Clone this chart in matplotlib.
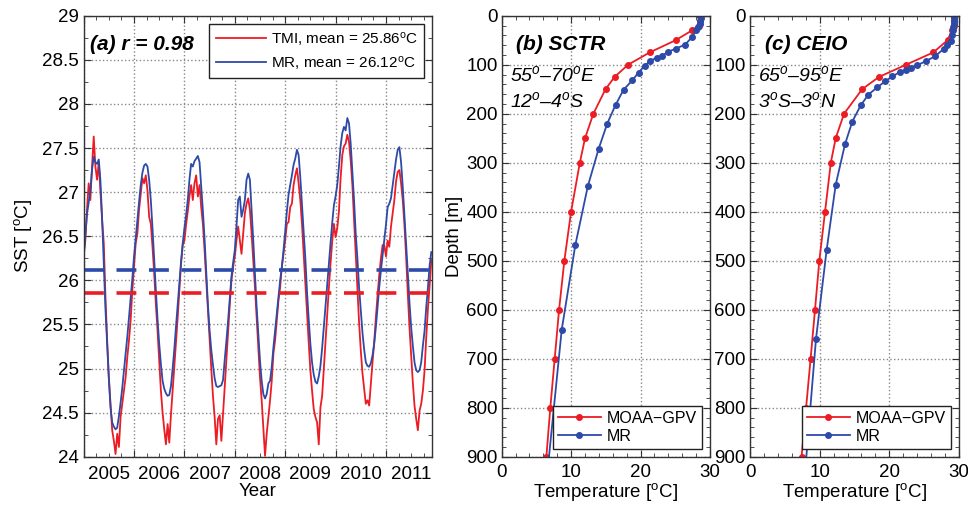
import numpy as np
import matplotlib
matplotlib.use("Agg")
import matplotlib.pyplot as plt
from matplotlib.ticker import FixedLocator, MultipleLocator, FuncFormatter

plt.rcParams['font.family'] = ['Liberation Sans', 'DejaVu Sans']
plt.rcParams['mathtext.fontset'] = 'custom'
plt.rcParams['mathtext.rm'] = 'Liberation Sans'
plt.rcParams['mathtext.it'] = 'Liberation Sans:italic'
plt.rcParams['mathtext.bf'] = 'Liberation Sans:bold'
plt.rcParams['mathtext.default'] = 'regular'

# ---- (a) SST time series, ~10-day samples starting Jan 2005 ----
tmi = [26.30, 26.45, 26.80, 27.10, 26.91, 27.29, 27.63, 27.29, 27.14, 27.34, 27.00, 26.68, 26.42, 25.81, 25.32,
       24.90, 24.60, 24.30, 24.18, 24.03, 24.26, 24.11, 24.45, 24.60, 24.75, 24.90, 25.13, 25.32, 25.55, 25.89,
       26.15, 26.42, 26.53, 26.80, 26.98, 27.16, 27.10, 27.19, 27.02, 26.72, 26.64, 26.38, 26.08, 25.73, 25.43,
       25.09, 24.75, 24.50, 24.31, 24.14, 24.37, 24.16, 24.48, 24.75, 25.02, 25.30, 25.58, 25.89, 26.19, 26.40,
       26.45, 26.63, 26.78, 26.95, 27.08, 26.91, 27.10, 27.19, 26.95, 27.08, 26.83, 26.64, 26.34, 26.00, 25.66,
       25.32, 25.00, 24.69, 24.45, 24.14, 24.43, 24.47, 24.18, 24.48, 24.79, 25.11, 25.41, 25.72, 26.00, 26.15,
       26.27, 26.45, 26.61, 26.45, 26.30, 26.53, 26.76, 26.87, 26.93, 26.80, 26.53, 26.23, 25.92, 25.58, 25.24,
       24.90, 24.64, 24.33, 24.01, 24.26, 24.45, 24.64, 24.86, 25.17, 25.32, 25.55, 25.77, 25.92, 26.15, 26.30,
       26.45, 26.64, 26.66, 26.83, 26.87, 27.08, 27.19, 27.27, 27.10, 26.91, 26.64, 26.30, 25.96, 25.62, 25.30,
       24.98, 24.75, 24.54, 24.45, 24.39, 24.14, 24.56, 24.69, 25.00, 25.30, 25.60, 25.91, 26.19, 26.44, 26.64,
       26.49, 26.59, 26.78, 27.16, 27.42, 27.52, 27.55, 27.65, 27.57, 27.36, 27.08, 26.68, 26.30, 25.92, 25.52,
       25.21, 24.95, 24.77, 24.60, 24.64, 24.58, 24.83, 25.07, 25.30, 25.58, 25.83, 26.06, 26.25, 26.40, 26.40,
       26.27, 26.45, 26.38, 26.61, 26.76, 26.91, 27.12, 27.23, 27.25, 27.10, 26.91, 26.63, 26.27, 25.85, 25.47,
       25.15, 24.84, 24.58, 24.43, 24.30, 24.52, 24.60, 24.75, 24.98, 25.36, 25.68, 25.94, 26.23]
mr = [26.24, 26.51, 26.75, 26.88, 27.02, 27.25, 27.40, 27.34, 27.32, 27.37, 27.13, 26.70, 26.18, 25.67, 25.29,
      24.89, 24.56, 24.39, 24.34, 24.31, 24.33, 24.46, 24.61, 24.78, 24.98, 25.17, 25.36, 25.58, 25.80, 26.02,
      26.27, 26.47, 26.68, 26.89, 27.08, 27.22, 27.30, 27.32, 27.29, 27.14, 26.91, 26.59, 26.23, 25.89, 25.56,
      25.28, 25.05, 24.86, 24.77, 24.72, 24.69, 24.70, 24.80, 25.00, 25.22, 25.48, 25.72, 25.97, 26.21, 26.42,
      26.59, 26.74, 26.91, 27.14, 27.32, 27.29, 27.35, 27.38, 27.41, 27.34, 27.07, 26.79, 26.47, 26.10, 25.72,
      25.43, 25.21, 25.04, 24.89, 24.80, 24.79, 24.80, 24.81, 24.87, 25.10, 25.31, 25.54, 25.79, 26.04, 26.20,
      26.34, 26.61, 26.91, 26.95, 26.72, 26.80, 26.91, 27.14, 27.21, 27.14, 26.80, 26.45, 26.08, 25.70, 25.39,
      25.09, 24.86, 24.71, 24.66, 24.71, 24.83, 24.86, 25.02, 25.24, 25.43, 25.62, 25.81, 26.00, 26.15, 26.34,
      26.55, 26.78, 26.97, 27.08, 27.19, 27.31, 27.38, 27.48, 27.42, 27.17, 26.85, 26.55, 26.25, 25.87, 25.56,
      25.28, 25.07, 24.93, 24.85, 24.83, 24.91, 25.03, 25.23, 25.47, 25.72, 25.96, 26.19, 26.42, 26.65, 26.85,
      26.95, 27.08, 27.29, 27.52, 27.67, 27.74, 27.70, 27.84, 27.78, 27.55, 27.23, 26.91, 26.53, 26.25, 25.92,
      25.66, 25.41, 25.22, 25.07, 25.03, 25.02, 25.06, 25.15, 25.28, 25.47, 25.70, 25.92, 26.11, 26.28, 26.45,
      26.63, 26.83, 26.87, 26.93, 27.08, 27.23, 27.37, 27.48, 27.51, 27.34, 27.06, 26.74, 26.42, 26.09, 25.75,
      25.47, 25.26, 25.07, 24.98, 24.96, 24.98, 25.07, 25.26, 25.43, 25.70, 25.92, 26.17, 26.32]
tmi_mean = 25.86
mr_mean = 26.12

# ---- (b) SCTR and (c) CEIO temperature profiles ----
b_moaa_depth = [0, 10, 20, 30, 50, 75, 100, 125, 150, 200, 250, 300, 400, 500, 600, 700, 800, 900]
b_moaa_temp = [28.6, 28.55, 28.4, 27.4, 25.05, 21.3, 18.2, 16.25, 14.95, 13.2, 12.0, 11.25, 9.99, 9.02, 8.26, 7.63, 7.0, 6.43]
b_mr_depth = [0, 5, 10, 16, 23, 30, 44, 59, 67, 74, 82, 86, 92, 102, 116, 132, 151, 182, 220, 272, 348, 468, 641, 915]
b_mr_temp = [28.56, 28.65, 28.6, 28.5, 28.3, 28.0, 27.4, 26.4, 25.1, 23.9, 23.1, 22.3, 21.4, 20.6, 19.7, 18.8, 17.55,
             16.4, 15.2, 13.95, 12.4, 10.6, 8.64, 6.7]
c_moaa_depth = [0, 10, 20, 30, 50, 75, 100, 125, 150, 200, 250, 300, 400, 500, 600, 700, 800, 900]
c_moaa_temp = [29.3, 29.3, 29.25, 29.0, 28.35, 26.3, 22.4, 18.5, 16.1, 13.5, 12.3, 11.6, 10.77, 9.95, 9.33, 8.7, 8.05, 7.4]
c_mr_depth = [0, 5, 10, 16, 23, 30, 40, 52, 59, 67, 83, 93, 101, 107, 110, 115, 124, 134, 146, 161, 183, 216, 262,
              345, 478, 660, 915]
c_mr_temp = [29.3, 29.35, 29.3, 29.3, 29.2, 29.1, 29.0, 28.8, 28.3, 27.85, 26.55, 25.2, 24.0, 23.06, 22.34, 21.48,
             20.43, 19.38, 18.28, 16.99, 15.89, 14.69, 13.64, 12.3, 11.0, 9.47, 8.0]

RED = '#ec1c24'
BLUE = '#2d4aa8'
FS = 13.5
DEG = r'$^{\mathit{o}}$'
DASH = '\u2013'

fig = plt.figure(figsize=(9.68, 5.07), dpi=100)
ax_a = fig.add_axes([0.0864, 0.0992, 0.3602, 0.8698])
ax_b = fig.add_axes([0.5183, 0.0992, 0.2152, 0.8698])
ax_c = fig.add_axes([0.7748, 0.0992, 0.2159, 0.8698])


def style(ax):
    for s in ax.spines.values():
        s.set_color('#333333')
        s.set_linewidth(1.0)
    ax.tick_params(which='both', direction='in', top=True, right=True, colors='#333333',
                   labelcolor='black', labelsize=FS)
    ax.tick_params(which='major', length=5)
    ax.tick_params(which='minor', length=3)
    ax.grid(True, which='major', linestyle=':', color='#888888', linewidth=1.0)


def boxed(lg):
    lg.get_frame().set_edgecolor('#222222')
    lg.get_frame().set_linewidth(1.0)
    lg.get_frame().set_alpha(1)


# panel (a)
t = 2005 + np.arange(len(tmi)) / 30.0
ax_a.plot(t, tmi, color=RED, lw=1.3, label='TMI, mean = 25.86' + r'$^o$C')
ax_a.plot(t, mr, color=BLUE, lw=1.3, label='MR, mean = 26.12' + r'$^o$C')
ax_a.axhline(mr_mean, color=BLUE, lw=2.6, linestyle=(0, (5.5, 3.5)))
ax_a.axhline(tmi_mean, color=RED, lw=2.6, linestyle=(0, (5.5, 3.5)))
ax_a.set_xlim(2005, 2011.92)
ax_a.set_ylim(24, 29)
ax_a.xaxis.set_major_locator(FixedLocator(list(range(2005, 2012))))
ax_a.xaxis.set_major_formatter(FuncFormatter(lambda v, p: ''))
ax_a.xaxis.set_minor_locator(FixedLocator(list(np.arange(2005.25, 2012, 0.25))))
ax_a.xaxis.set_minor_formatter(FuncFormatter(
    lambda v, p: str(int(v)) if abs(v - int(v) - 0.5) < 0.01 else ''))
ax_a.yaxis.set_major_locator(MultipleLocator(0.5))
ax_a.yaxis.set_minor_locator(MultipleLocator(0.25))
ax_a.yaxis.set_major_formatter(FuncFormatter(lambda v, p: ('%g' % v)))
style(ax_a)
ax_a.tick_params(axis='x', which='minor', labelsize=FS, pad=7)
ax_a.set_xlabel('Year', fontsize=FS, labelpad=0)
ax_a.set_ylabel(r'SST [$^o$C]', fontsize=FS, labelpad=6)
ax_a.text(0.018, 0.935, '(a) r = 0.98', transform=ax_a.transAxes, fontsize=15,
          fontweight='bold', fontstyle='italic', va='center', ha='left')
leg = ax_a.legend(loc='upper right', fontsize=11, frameon=True, fancybox=False,
                  borderaxespad=0.55, handlelength=3.3, handletextpad=0.3, borderpad=0.4,
                  labelspacing=0.35)
boxed(leg)


def profile(ax, md, mt, rd, rt, title, lon, lat):
    ax.plot(mt, md, color=RED, lw=1.3, marker='o', ms=4, label='MOAA\u2212GPV')
    ax.plot(rt, rd, color=BLUE, lw=1.3, marker='o', ms=4, label='MR')
    ax.set_xlim(0, 30)
    ax.set_ylim(900, 0)
    ax.xaxis.set_major_locator(MultipleLocator(10))
    ax.xaxis.set_minor_locator(MultipleLocator(2))
    ax.yaxis.set_major_locator(MultipleLocator(100))
    ax.yaxis.set_minor_locator(MultipleLocator(20))
    style(ax)
    ax.tick_params(axis='x', which='major', pad=5)
    ax.tick_params(axis='y', which='major', pad=3)
    ax.set_xlabel(r'Temperature [$^o$C]', fontsize=FS, labelpad=0)
    ax.text(0.07, 0.935, title, transform=ax.transAxes, fontsize=15,
            fontweight='bold', fontstyle='italic', va='center', ha='left')
    ax.text(0.04, 0.866, lon, transform=ax.transAxes, fontsize=14, fontstyle='italic',
            va='center', ha='left')
    ax.text(0.04, 0.806, lat, transform=ax.transAxes, fontsize=14, fontstyle='italic',
            va='center', ha='left')
    lg = ax.legend(loc='lower right', fontsize=11.5, frameon=True, fancybox=False,
                   borderaxespad=0.5, handlelength=2.7, handletextpad=0.4, borderpad=0.3,
                   labelspacing=0.2)
    boxed(lg)


profile(ax_b, b_moaa_depth, b_moaa_temp, b_mr_depth, b_mr_temp, '(b) SCTR',
        '55' + DEG + DASH + '70' + DEG + 'E', '12' + DEG + DASH + '4' + DEG + 'S')
profile(ax_c, c_moaa_depth, c_moaa_temp, c_mr_depth, c_mr_temp, '(c) CEIO',
        '65' + DEG + DASH + '95' + DEG + 'E', '3' + DEG + 'S' + DASH + '3' + DEG + 'N')
ax_b.set_ylabel('Depth [m]', fontsize=FS, labelpad=2)

fig.savefig('out.png', dpi=100)
